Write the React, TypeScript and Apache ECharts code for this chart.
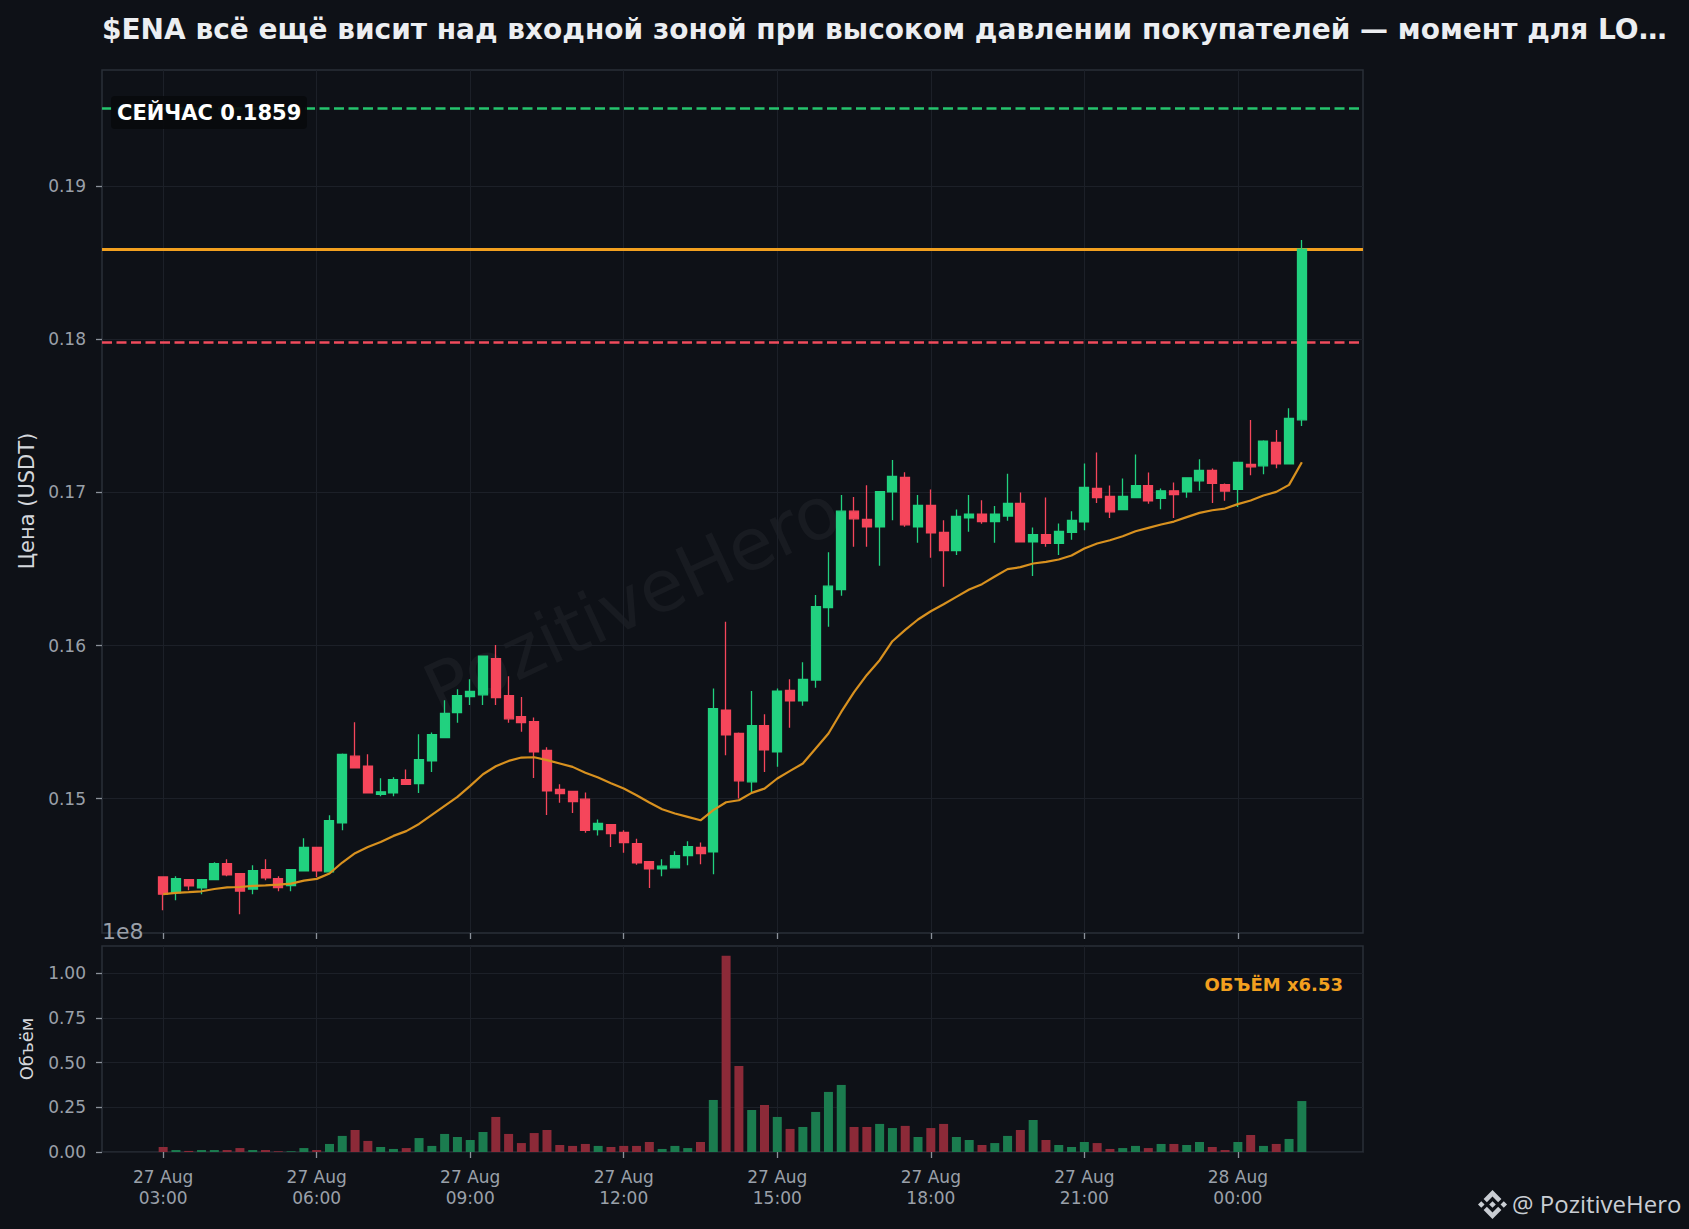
import React, { useEffect, useRef } from "react";
import * as echarts from "echarts";

// ---------- DATA ----------
const TITLE =
  "$ENA всё ещё висит над входной зоной при высоком давлении покупателей — момент для LO…";

// 15-minute candles, first one on 27 Aug 03:00 (x = hours since 27 Aug 00:00)
const START_HOUR = 3;
const STEP_HOURS = 0.25;

const opens = [
  0.14488, 0.14383, 0.1447, 0.14416, 0.1447, 0.14575, 0.1451, 0.14409, 0.14536, 0.14477,
  0.14431, 0.14527, 0.1468, 0.14521, 0.14841, 0.15277, 0.15211, 0.15028, 0.15037, 0.15124,
  0.15098, 0.15246, 0.15399, 0.15562, 0.15667, 0.15678, 0.15915, 0.15673, 0.15536, 0.15503,
  0.15314, 0.15059, 0.15046, 0.14996, 0.14797, 0.1483, 0.14778, 0.14706, 0.14588, 0.1454,
  0.14547, 0.14627, 0.1468, 0.14651, 0.15578, 0.15425, 0.15109, 0.15477, 0.15305, 0.15706,
  0.15639, 0.15774, 0.16248, 0.16366, 0.16878, 0.16824, 0.16776, 0.17005, 0.17098, 0.16776,
  0.16915, 0.16739, 0.16621, 0.16835, 0.16859, 0.16809, 0.16846, 0.16928, 0.16678, 0.16724,
  0.16667, 0.16739, 0.16808, 0.17026, 0.16974, 0.16889, 0.16967, 0.17044, 0.16961, 0.17011,
  0.17004, 0.17076, 0.17144, 0.17052, 0.1702, 0.17183, 0.17174, 0.17327, 0.17187, 0.17475,
];
const closes = [
  0.14375, 0.14477, 0.14429, 0.1447, 0.14575, 0.14501, 0.14396, 0.14529, 0.14481, 0.14418,
  0.14536, 0.1468, 0.14527, 0.14856, 0.15288, 0.152, 0.15037, 0.15044, 0.15124, 0.15092,
  0.15255, 0.15418, 0.15556, 0.15673, 0.157, 0.15931, 0.1566, 0.15521, 0.15497, 0.15305,
  0.1505, 0.15033, 0.1498, 0.14793, 0.14837, 0.14771, 0.14712, 0.14579, 0.1454, 0.14558,
  0.14627, 0.14686, 0.1464, 0.15588, 0.15416, 0.15116, 0.15477, 0.15318, 0.15702, 0.15639,
  0.15778, 0.16254, 0.16388, 0.16878, 0.16828, 0.16776, 0.17005, 0.17105, 0.16789, 0.16915,
  0.16737, 0.16621, 0.16843, 0.16859, 0.16809, 0.16859, 0.16928, 0.16678, 0.16724, 0.16667,
  0.16745, 0.16817, 0.17033, 0.16967, 0.16874, 0.16974, 0.17044, 0.16946, 0.17011, 0.16987,
  0.17096, 0.17144, 0.17059, 0.17009, 0.17196, 0.17168, 0.17336, 0.17187, 0.17484, 0.1859,
];
const lows = [
  0.1427, 0.14335, 0.14401, 0.14375, 0.1447, 0.14492, 0.14244, 0.14375, 0.14466, 0.14394,
  0.14394, 0.14527, 0.14488, 0.14521, 0.14793, 0.152, 0.15037, 0.15015, 0.15015, 0.15092,
  0.15037, 0.15174, 0.15399, 0.15495, 0.15612, 0.15612, 0.15612, 0.15495, 0.15436, 0.15135,
  0.14893, 0.14972, 0.14906, 0.14776, 0.14758, 0.14684, 0.14645, 0.14568, 0.14416, 0.14492,
  0.14547, 0.14564, 0.14571, 0.14505, 0.15283, 0.15, 0.15039, 0.15174, 0.15207, 0.15462,
  0.15606, 0.15724, 0.16122, 0.16325, 0.16645, 0.16645, 0.16521, 0.16819, 0.16776, 0.16671,
  0.16573, 0.16384, 0.16591, 0.16743, 0.16795, 0.16671, 0.16815, 0.16678, 0.16455, 0.16645,
  0.16591, 0.16691, 0.16754, 0.16932, 0.16834, 0.16889, 0.16967, 0.16926, 0.16891, 0.16834,
  0.16965, 0.17011, 0.16932, 0.16946, 0.16906, 0.17113, 0.1712, 0.17159, 0.17187, 0.17434,
];
const highs = [
  0.1449, 0.14492, 0.1447, 0.14475, 0.14584, 0.14603, 0.1451, 0.14564, 0.14603, 0.14492,
  0.14536, 0.14741, 0.1468, 0.14891, 0.15294, 0.15499, 0.1529, 0.15133, 0.15139, 0.1519,
  0.15421, 0.15431, 0.15643, 0.15715, 0.1578, 0.15931, 0.16003, 0.158, 0.15663, 0.1553,
  0.15336, 0.15094, 0.15046, 0.15039, 0.14863, 0.1483, 0.14793, 0.14738, 0.14588, 0.14603,
  0.14656, 0.14721, 0.14712, 0.15719, 0.16155, 0.15432, 0.15702, 0.15551, 0.15719, 0.1578,
  0.15891, 0.1633, 0.1661, 0.16983, 0.1697, 0.17048, 0.17005, 0.17212, 0.17133, 0.16983,
  0.1702, 0.16819, 0.16889, 0.16983, 0.1695, 0.16911, 0.17122, 0.17, 0.16771, 0.16968,
  0.16798, 0.16878, 0.1719, 0.17262, 0.17046, 0.17092, 0.17248, 0.17131, 0.17026, 0.17065,
  0.171, 0.17218, 0.17157, 0.17059, 0.17196, 0.17473, 0.17342, 0.17408, 0.17551, 0.1865,
];
// EMA line
const emaLine = [
  0.14375, 0.14383, 0.14388, 0.14394, 0.14409, 0.1442, 0.14422, 0.14429, 0.14433, 0.14438,
  0.14444, 0.14464, 0.14475, 0.1451, 0.14582, 0.14643, 0.14683, 0.14716, 0.14756, 0.14787,
  0.14834, 0.14893, 0.14952, 0.15011, 0.15083, 0.15159, 0.15211, 0.15246, 0.15268, 0.1527,
  0.15251, 0.15229, 0.15207, 0.15168, 0.15137, 0.151, 0.15065, 0.15022, 0.14974, 0.1493,
  0.14902, 0.1488, 0.14858, 0.14924, 0.14976, 0.14989, 0.15037, 0.15065, 0.15131, 0.15181,
  0.15229, 0.15327, 0.15425, 0.15566, 0.15695, 0.15808, 0.15904, 0.16028, 0.16102, 0.1617,
  0.16224, 0.1627, 0.16318, 0.16366, 0.16401, 0.16451, 0.16499, 0.16512, 0.16536, 0.16547,
  0.16562, 0.16588, 0.16634, 0.16667, 0.16688, 0.16714, 0.16747, 0.16769, 0.16791, 0.1681,
  0.16839, 0.16867, 0.16884, 0.16895, 0.16924, 0.16948, 0.1698, 0.17004, 0.1705, 0.17198,
];
// volume in units of 1e8
const volumes = [
  0.028, 0.011, 0.006, 0.011, 0.011, 0.011, 0.022, 0.011, 0.011, 0.004,
  0.004, 0.022, 0.011, 0.045, 0.09, 0.123, 0.062, 0.028, 0.017, 0.022,
  0.078, 0.034, 0.101, 0.084, 0.067, 0.112, 0.196, 0.101, 0.05, 0.106,
  0.123, 0.039, 0.034, 0.045, 0.034, 0.028, 0.034, 0.034, 0.056, 0.017,
  0.034, 0.022, 0.056, 0.291, 1.097, 0.481, 0.235, 0.263, 0.196, 0.129,
  0.14, 0.224, 0.336, 0.375, 0.14, 0.14, 0.157, 0.134, 0.146, 0.084,
  0.134, 0.157, 0.084, 0.067, 0.039, 0.05, 0.09, 0.123, 0.179, 0.067,
  0.039, 0.028, 0.056, 0.05, 0.017, 0.022, 0.034, 0.022, 0.045, 0.045,
  0.039, 0.056, 0.028, 0.011, 0.056, 0.095, 0.034, 0.045, 0.073, 0.285,
];

const LEVEL_TARGET = 0.1951;
const LEVEL_NOW = 0.1859;
const LEVEL_STOP = 0.1798;

const priceTicks = [0.15, 0.16, 0.17, 0.18, 0.19];
const volumeTicks = [0, 0.25, 0.5, 0.75, 1.0];
const timeTicks = [3, 6, 9, 12, 15, 18, 21, 24];
const timeTickLabels = [
  "27 Aug\n03:00",
  "27 Aug\n06:00",
  "27 Aug\n09:00",
  "27 Aug\n12:00",
  "27 Aug\n15:00",
  "27 Aug\n18:00",
  "27 Aug\n21:00",
  "28 Aug\n00:00",
];

const NOW_LABEL = "СЕЙЧАС 0.1859";
const VOLUME_NOTE = "ОБЪЁМ x6.53";

// ---------- STYLE ----------
const BG = "#0e1117";
const GREEN = "#21d17f";
const RED = "#f5465b";
const VOL_GREEN = "#1b7c4f";
const VOL_RED = "#8c2a38";
const GRID_LINE = "#1c2028";
const SPINE = "#2a2f38";
const TICK_TEXT = "#9aa0a9";
const FONT = "DejaVu Sans";

const LOGO_PATH =
  "M38.73 53.2L63.3 28.62l24.6 24.6 14.3-14.31L63.3 0 24.42 38.9z M0 63.31l14.3-14.31 14.31 14.31-14.31 14.3z M38.73 73.41L63.3 98l24.6-24.6 14.31 14.29L63.3 126.61 24.42 87.73z M98.28 63.31l14.3-14.31 14.31 14.31-14.31 14.3z M77.83 63.3L63.3 48.78 48.81 63.28 63.32 77.78z";

let logoRegistered = false;
function registerLogo() {
  if (logoRegistered) return;
  try {
    echarts.graphic.registerShape("brandLogo", echarts.graphic.extendPath(LOGO_PATH, {}));
  } catch (e) {
    /* already registered */
  }
  logoRegistered = true;
}

function timeLabel(v: number): string {
  const idx = timeTicks.findIndex((t) => Math.abs(t - v) < 1e-6);
  return idx >= 0 ? timeTickLabels[idx] : "";
}

function buildOption() {
  const times = opens.map((_, i) => START_HOUR + i * STEP_HOURS);
  const candleData = times.map((t, i) => [t, opens[i], closes[i], lows[i], highs[i]]);
  const emaData = times.map((t, i) => [t, emaLine[i]]);
  const volData = times.map((t, i) => ({
    value: [t, volumes[i]],
    itemStyle: { color: closes[i] >= opens[i] ? VOL_GREEN : VOL_RED },
  }));

  const xCommon = {
    type: "value",
    min: 1.805,
    max: 26.445,
    axisLine: { show: false },
    axisTick: {
      show: true,
      customValues: timeTicks,
      length: 6,
      lineStyle: { color: "#8b919a", width: 1.3 },
    },
    splitLine: { show: true, lineStyle: { color: GRID_LINE, width: 1 } },
  };

  const yTickStyle = {
    show: true,
    length: 6,
    lineStyle: { color: "#8b919a", width: 1.3 },
  };

  return {
    animation: false,
    backgroundColor: BG,
    textStyle: { fontFamily: FONT },
    grid: [
      {
        left: 102,
        top: 70,
        width: 1261,
        height: 863,
        show: true,
        borderColor: SPINE,
        borderWidth: 1.5,
        backgroundColor: "transparent",
      },
      {
        left: 102,
        top: 946,
        width: 1261,
        height: 206,
        show: true,
        borderColor: SPINE,
        borderWidth: 1.5,
        backgroundColor: "transparent",
      },
    ],
    xAxis: [
      {
        ...xCommon,
        gridIndex: 0,
        axisLabel: { show: false, customValues: timeTicks },
      },
      {
        ...xCommon,
        gridIndex: 1,
        axisLabel: {
          show: true,
          customValues: timeTicks,
          formatter: (v: number) => timeLabel(v),
          color: TICK_TEXT,
          fontSize: 17,
          fontFamily: FONT,
          lineHeight: 21,
          margin: 14,
        },
      },
    ],
    yAxis: [
      {
        type: "value",
        gridIndex: 0,
        min: 0.141214,
        max: 0.197609,
        axisLine: { show: false },
        axisTick: { ...yTickStyle, customValues: priceTicks },
        axisLabel: {
          customValues: priceTicks,
          formatter: (v: number) => v.toFixed(2),
          color: TICK_TEXT,
          fontSize: 17,
          fontFamily: FONT,
          margin: 16,
        },
        splitLine: { show: true, lineStyle: { color: GRID_LINE, width: 1 } },
      },
      {
        type: "value",
        gridIndex: 1,
        min: 0,
        max: 1.152,
        axisLine: { show: false },
        axisTick: { ...yTickStyle, customValues: volumeTicks },
        axisLabel: {
          customValues: volumeTicks,
          formatter: (v: number) => v.toFixed(2),
          color: TICK_TEXT,
          fontSize: 17,
          fontFamily: FONT,
          margin: 16,
        },
        splitLine: { show: true, lineStyle: { color: GRID_LINE, width: 1 } },
      },
    ],
    series: [
      {
        type: "candlestick",
        xAxisIndex: 0,
        yAxisIndex: 0,
        dimensions: ["t", "open", "close", "low", "high"],
        encode: { x: "t", y: ["open", "close", "low", "high"] },
        data: candleData,
        barWidth: 9.5,
        itemStyle: {
          color: GREEN,
          color0: RED,
          borderColor: GREEN,
          borderColor0: RED,
          borderWidth: 1.3,
        },
        z: 3,
        markLine: {
          silent: true,
          precision: 5,
          symbol: ["none", "none"],
          label: { show: false },
          z: 2,
          data: [
            { yAxis: LEVEL_TARGET, lineStyle: { color: "#25c46d", width: 2.5, type: [10, 4.5] } },
            { yAxis: LEVEL_NOW, lineStyle: { color: "#f2a01f", width: 3, type: "solid" } },
            { yAxis: LEVEL_STOP, lineStyle: { color: "#f04b5c", width: 2.5, type: [10, 4.5] } },
          ],
        },
      },
      {
        type: "line",
        xAxisIndex: 0,
        yAxisIndex: 0,
        data: emaData,
        showSymbol: false,
        symbol: "none",
        lineStyle: { color: "#d8911f", width: 2.2 },
        z: 4,
      },
      {
        type: "bar",
        xAxisIndex: 1,
        yAxisIndex: 1,
        data: volData,
        barWidth: 9,
        z: 3,
      },
    ],
    graphic: [
      {
        type: "text",
        x: 102,
        y: 29,
        style: {
          text: TITLE,
          fill: "#eceef1",
          font: `bold 28px "${FONT}"`,
          align: "left",
          textAlign: "left",
          verticalAlign: "middle",
          textVerticalAlign: "middle",
        },
      },
      {
        type: "text",
        x: 27,
        y: 501,
        rotation: Math.PI / 2,
        style: {
          text: "Цена (USDT)",
          fill: "#d4d7dc",
          font: `21px "${FONT}"`,
          align: "center",
          textAlign: "center",
          verticalAlign: "middle",
          textVerticalAlign: "middle",
        },
      },
      {
        type: "text",
        x: 26,
        y: 1049,
        rotation: Math.PI / 2,
        style: {
          text: "Объём",
          fill: "#d4d7dc",
          font: `18px "${FONT}"`,
          align: "center",
          textAlign: "center",
          verticalAlign: "middle",
          textVerticalAlign: "middle",
        },
      },
      {
        type: "text",
        x: 102,
        y: 931,
        style: {
          text: "1e8",
          fill: TICK_TEXT,
          font: `22px "${FONT}"`,
          align: "left",
          textAlign: "left",
          verticalAlign: "middle",
          textVerticalAlign: "middle",
        },
      },
      {
        type: "text",
        x: 632,
        y: 600,
        rotation: (25 * Math.PI) / 180,
        silent: true,
        style: {
          text: "PozitiveHero",
          fill: "rgba(255,255,255,0.045)",
          font: `72px "${FONT}"`,
          align: "center",
          textAlign: "center",
          verticalAlign: "middle",
          textVerticalAlign: "middle",
        },
      },
      {
        type: "rect",
        shape: { x: 111, y: 96, width: 196, height: 33, r: 4 },
        style: { fill: "rgba(8,10,13,0.92)" },
        z: 10,
      },
      {
        type: "text",
        x: 117,
        y: 113,
        z: 11,
        style: {
          text: NOW_LABEL,
          fill: "#ffffff",
          font: `bold 21px "${FONT}"`,
          align: "left",
          textAlign: "left",
          verticalAlign: "middle",
          textVerticalAlign: "middle",
        },
      },
      {
        type: "text",
        x: 1343,
        y: 984,
        z: 11,
        style: {
          text: VOLUME_NOTE,
          fill: "#f2a01f",
          font: `bold 18px "${FONT}"`,
          align: "right",
          textAlign: "right",
          verticalAlign: "middle",
          textVerticalAlign: "middle",
        },
      },
      {
        type: "brandLogo",
        x: 1478,
        y: 1190,
        scaleX: 29 / 126.61,
        scaleY: 29 / 126.61,
        style: { fill: "#c9cdd3" },
      },
      {
        type: "text",
        x: 1512,
        y: 1203,
        style: {
          text: "@ PozitiveHero",
          fill: "#c9cdd3",
          font: `24px "Open Sans"`,
          align: "left",
          textAlign: "left",
          verticalAlign: "middle",
          textVerticalAlign: "middle",
        },
      },
    ],
  };
}

export default function App() {
  const ref = useRef<HTMLDivElement>(null);
  useEffect(() => {
    if (!ref.current) return;
    registerLogo();
    const chart = echarts.init(ref.current, undefined, { renderer: "svg" });
    chart.setOption(buildOption() as any);
    return () => chart.dispose();
  }, []);
  return (
    <div
      ref={ref}
      style={{
        position: "absolute",
        left: 0,
        top: 0,
        width: 1689,
        height: 1229,
        background: BG,
      }}
    />
  );
}
